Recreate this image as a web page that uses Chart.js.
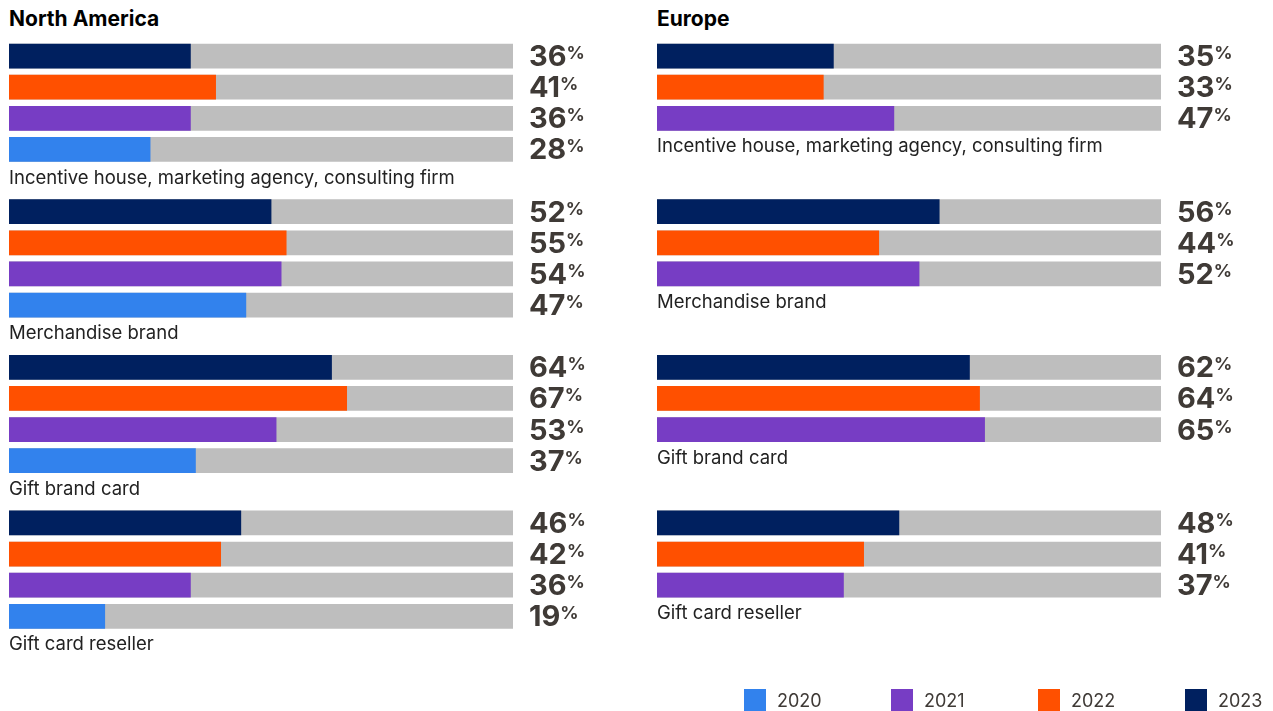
<!DOCTYPE html>
<html>
<head>
<meta charset="utf-8">
<script src="https://cdn.jsdelivr.net/npm/chart.js@4"></script>
<style>
  body { margin: 0; background: #fff; font-family: Inter, sans-serif; }
  #wrap { position: relative; width: 1273px; height: 711px; overflow: hidden; }
  canvas { position: absolute; top: 0; }
  .title { position: absolute; top: 6px; font-size: 21px; font-weight: 700; color: #000; }
  #legend { position: absolute; left: 744px; top: 689px; display: flex; }
  .item { display: flex; align-items: center; width: 147px; font-size: 18px; color: #3f3a36; }
  .box { width: 22px; height: 22px; margin-right: 11px; }
</style>
</head>
<body>
<div id="wrap">
  <div class="title" style="left:9px">North America</div>
  <div class="title" style="left:657px">Europe</div>
  <canvas id="naChart" width="640" height="711" style="left:0"></canvas>
  <canvas id="euChart" width="625" height="711" style="left:648px"></canvas>
  <div id="legend"></div>
</div>
<script>
// Данные
const categories = ['Incentive house, marketing agency, consulting firm', 'Merchandise brand', 'Gift brand card', 'Gift card reseller'];
const legendYears = ['2020', '2021', '2022', '2023'];

const na2023 = [36, 52, 64, 46];
const na2022 = [41, 55, 67, 42];
const na2021 = [36, 54, 53, 36];
const na2020 = [28, 47, 37, 19];

const eu2023 = [35, 56, 62, 48];
const eu2022 = [33, 44, 64, 41];
const eu2021 = [47, 52, 65, 37];

const colors = { '2020': '#3282ed', '2021': '#773dc4', '2022': '#ff5000', '2023': '#00205f' };

// строим строки: бары по годам, потом строка с подписью категории
function buildRows(series) {
    const labels = [], values = [], back = [], bg = [], catText = [];
    for (let c = 0; c < categories.length; c++) {
        for (let s of series) {
            labels.push(categories[c] + ' ' + s.year);
            values.push(s.data[c]);
            back.push(100);
            bg.push(colors[s.year]);
            catText.push(null);
        }
        // строки под подпись (и пустые, чтобы группы шли с одним шагом)
        for (let k = series.length; k < 5; k++) {
            labels.push(categories[c] + ' #' + k);
            values.push(null);
            back.push(null);
            bg.push('#fff');
            catText.push(k === series.length ? categories[c] : null);
        }
    }
    return { labels, values, back, bg, catText };
}

const labelPlugin = {
    id: 'valueLabels',
    afterDatasetsDraw(chart) {
        const ctx = chart.ctx;
        const rows = chart.options.plugins.valueLabels.rows;
        const yScale = chart.scales.y;
        ctx.save();
        ctx.textBaseline = 'alphabetic';
        ctx.textAlign = 'left';
        rows.values.forEach((v, i) => {
            const y = yScale.getPixelForTick(i);
            if (v !== null) {
                const x = chart.chartArea.right + 16;
                ctx.fillStyle = '#3f3a36';
                ctx.font = '700 29px Inter';
                const txt = String(v);
                ctx.fillText(txt, x, y + 10);
                const w = ctx.measureText(txt).width;
                ctx.font = '700 18px Inter';
                ctx.fillText('%', x + w, y + 3);
            }
            if (rows.catText[i]) {
                ctx.fillStyle = '#222';
                ctx.font = '400 18.5px Inter';
                ctx.fillText(rows.catText[i], chart.chartArea.left, y + 3);
            }
        });
        ctx.restore();
    }
};

function drawPanel(elementId, series, padRight) {
    const rows = buildRows(series);
    const ctx = document.getElementById(elementId).getContext('2d');
    new Chart(ctx, {
        type: 'bar',
        data: {
            labels: rows.labels,
            datasets: [
                { data: rows.back, backgroundColor: '#bebebe', barThickness: 24, order: 2, grouped: false },
                { data: rows.values, backgroundColor: rows.bg, barThickness: 24, order: 1, grouped: false }
            ]
        },
        options: {
            indexAxis: 'y',
            responsive: false,
            animation: false,
            layout: { padding: { left: 9, right: padRight, top: 40.5, bottom: 48 } },
            scales: {
                x: { display: false, min: 0, max: 100 },
                y: { display: false }
            },
            plugins: {
                legend: { display: false },
                tooltip: { enabled: false },
                valueLabels: { rows: rows }
            }
        },
        plugins: [labelPlugin]
    });
}

drawPanel('naChart', [
    { year: '2023', data: na2023 },
    { year: '2022', data: na2022 },
    { year: '2021', data: na2021 },
    { year: '2020', data: na2020 }
], 127);

drawPanel('euChart', [
    { year: '2023', data: eu2023 },
    { year: '2022', data: eu2022 },
    { year: '2021', data: eu2021 }
], 112);

// Легенда
const legend = document.getElementById('legend');
for (let y of legendYears) {
    const item = document.createElement('div');
    item.className = 'item';
    item.innerHTML = '<span class="box" style="background:' + colors[y] + '"></span>' + y;
    legend.appendChild(item);
}
</script>
</body>
</html>
